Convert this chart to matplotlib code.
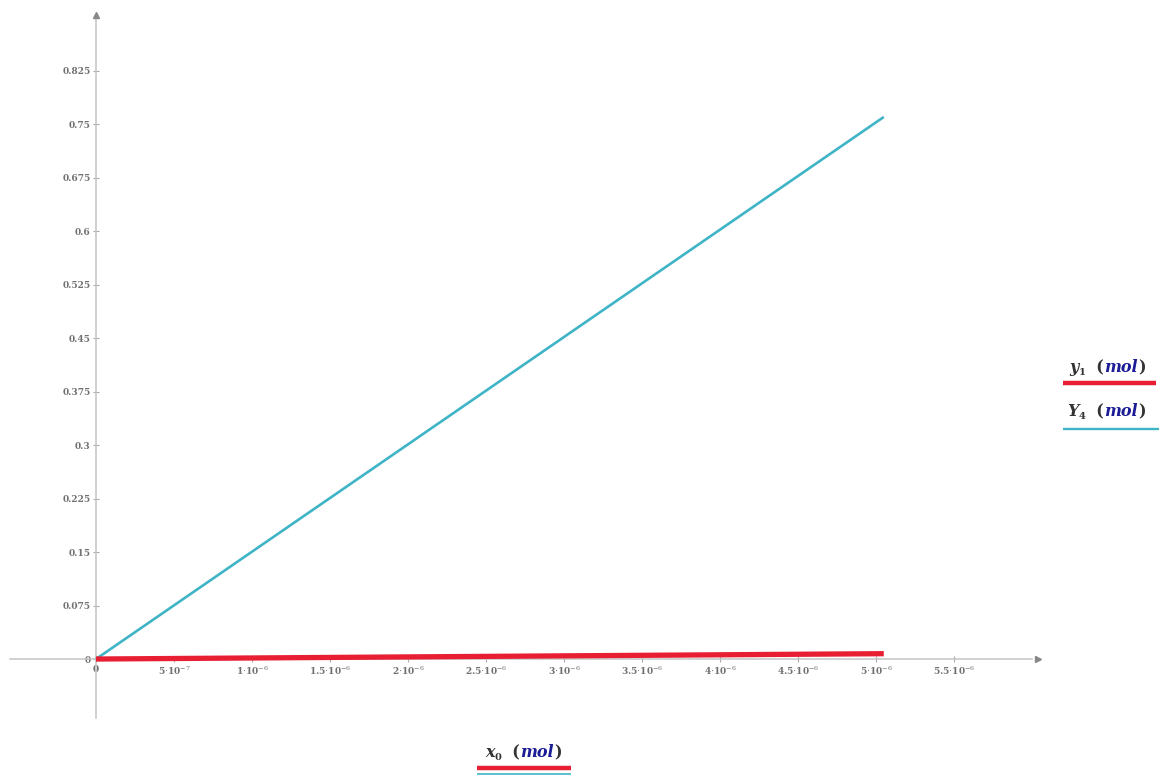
import matplotlib
matplotlib.use("Agg")
import matplotlib.pyplot as plt
from matplotlib.ticker import FixedLocator, FuncFormatter

plt.rcParams["mathtext.fontset"] = "dejavuserif"

# Amounts of substance (mol)
x0 = [0.0, 5.05e-6]
y1 = [0.0, 0.0075]
Y4 = [0.0, 0.76]

x_ticks = [0, 5e-7, 1e-6, 1.5e-6, 2e-6, 2.5e-6, 3e-6, 3.5e-6, 4e-6, 4.5e-6, 5e-6, 5.5e-6]
y_ticks = [0, 0.075, 0.15, 0.225, 0.3, 0.375, 0.45, 0.525, 0.6, 0.675, 0.75, 0.825]

RED = "#e81f33"
CYAN = "#3fb4c6"
AXIS = "#c4c4c4"
TICKTXT = "#707070"
NAVY = "#1c1c96"
DARK = "#333333"

W, H = 1168, 776
fig = plt.figure(figsize=(W / 100, H / 100), dpi=100)
ax = fig.add_axes([0, 0, 1, 1])
ax.set_xlim(-6.154e-7, 6.872e-6)
ax.set_ylim(-0.164, 0.924)
ax.patch.set_alpha(0)

for s in ("top", "right"):
    ax.spines[s].set_visible(False)
ax.spines["left"].set_position("zero")
ax.spines["bottom"].set_position("zero")
ax.spines["left"].set_bounds(-0.083, 0.9)
ax.spines["bottom"].set_bounds(-5.5e-7, 6.0e-6)
for s in ("left", "bottom"):
    ax.spines[s].set_color(AXIS)
    ax.spines[s].set_linewidth(1.1)

# arrow heads at the positive ends of the axes
ax.plot([6.04e-6], [0], marker=">", color="#888888", markersize=5, clip_on=False, zorder=5)
ax.plot([0], [0.903], marker="^", color="#888888", markersize=5, clip_on=False, zorder=5)


def xfmt(v, pos):
    if v == 0:
        return "0"
    exp = -7 if v < 1e-6 else -6
    m = v / 10 ** exp
    ms = f"{m:g}"
    return ms + r"$\cdot$" + "10" + r"$^{" + str(exp) + "}$"


ax.xaxis.set_major_locator(FixedLocator(x_ticks))
ax.yaxis.set_major_locator(FixedLocator(y_ticks))
ax.xaxis.set_major_formatter(FuncFormatter(xfmt))
ax.yaxis.set_major_formatter(FuncFormatter(lambda v, p: f"{v:g}"))
ax.tick_params(axis="both", direction="inout", length=5, width=0.8, color="#aaaaaa",
               labelsize=6.5, labelcolor=TICKTXT, pad=1.5)
for lab in ax.get_xticklabels() + ax.get_yticklabels():
    lab.set_family("DejaVu Serif")
    lab.set_fontweight("bold")

ax.plot(x0, Y4, color=CYAN, lw=1.9, solid_capstyle="butt", zorder=3)
ax.plot(x0, y1, color=RED, lw=3.8, solid_capstyle="butt", zorder=4)

renderer = fig.canvas.get_renderer()


def rich(xpx, ypx, parts, size=12):
    """Lay out differently styled text pieces one after another (pixel coords, y from top)."""
    x = xpx
    for txt, color, style, scale, dy in parts:
        t = fig.text(x / W, 1 - (ypx + dy) / H, txt, color=color, fontsize=size * scale,
                     family="DejaVu Serif", fontstyle=style, fontweight="bold",
                     va="baseline", ha="left")
        bb = t.get_window_extent(renderer)
        x += bb.width


def series_label(xpx, ypx, sym, sub):
    rich(xpx, ypx, [
        (sym, DARK, "italic", 1.0, 0),
        (sub, DARK, "normal", 0.62, 3),
        ("  (", DARK, "normal", 1.0, 0),
        ("mol", NAVY, "italic", 1.0, 0),
        (")", DARK, "normal", 1.0, 0),
    ], size=11.5)


def legend_line(x1, x2, ypx, color, lw):
    fig.add_artist(plt.Line2D([x1 / W, x2 / W], [1 - ypx / H, 1 - ypx / H],
                              color=color, lw=lw, solid_capstyle="butt"))


series_label(1069, 372, "y", "1")
legend_line(1063, 1156, 383, RED, 3.2)
series_label(1067, 416, "Y", "4")
legend_line(1063, 1159, 429, CYAN, 1.7)

series_label(485, 757, "x", "0")
legend_line(477, 571, 768, RED, 3.2)
legend_line(477, 571, 773.5, CYAN, 1.2)

fig.savefig("out.png", dpi=100)
